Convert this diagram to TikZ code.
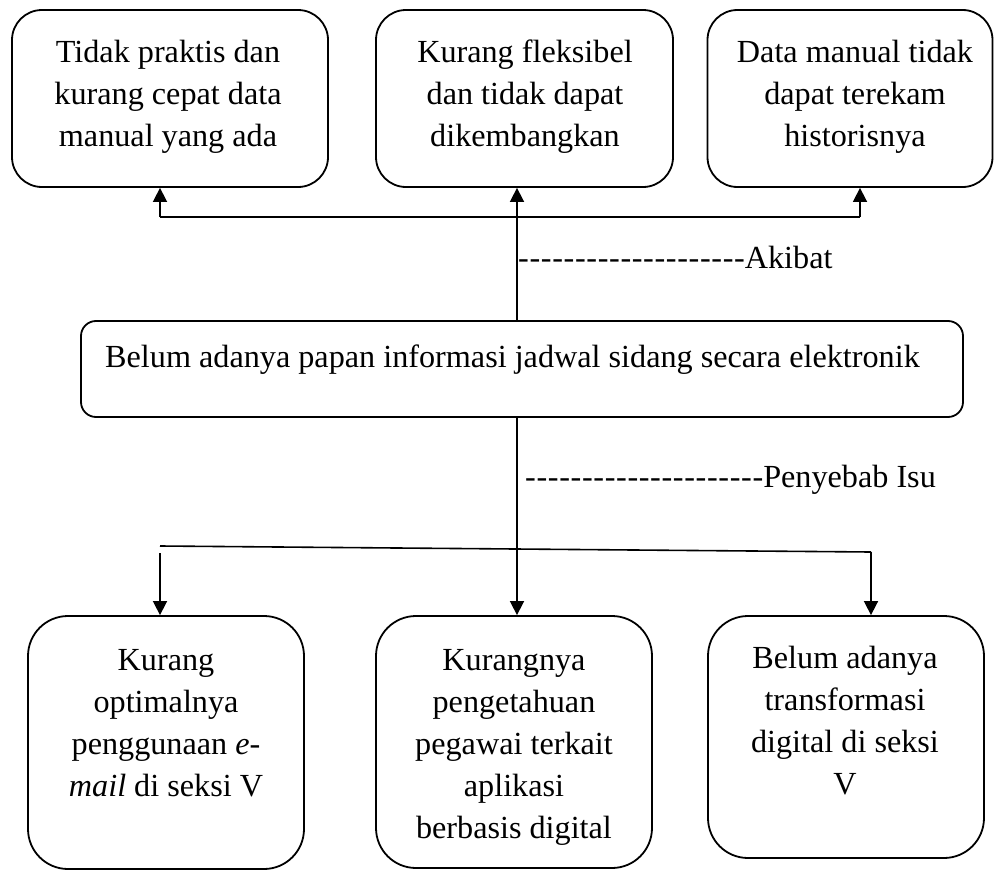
\documentclass[tikz,border=0pt]{standalone}
\usepackage{fontspec}
\setmainfont{Liberation Serif}[Ligatures=TeXOff]
\newfontfamily\hyfont{Liberation Serif}[Ligatures=TeXOff,LetterSpace=2.0]
\usetikzlibrary{arrows.meta}
\begin{document}
\begin{tikzpicture}[x=1pt,y=-1pt,
  font=\fontsize{32.2}{42}\selectfont,
  box/.style={draw, line width=1.8pt, rounded corners=30pt, inner sep=0pt},
  bigbox/.style={box, rounded corners=40pt, minimum width=276pt},
  topbox/.style={box, minimum height=177pt},
  txt/.style={inner sep=0pt, align=center},
  conn/.style={line width=1.6pt},
  arr/.style={conn, -{Triangle[length=14pt,width=14pt]}}]
\useasboundingbox (0,0) rectangle (994,870);
% top boxes
\node[topbox, minimum width=316pt] (b1) at (170,98.5) {};
\node[topbox, minimum width=297pt] (b2) at (524.5,98.5) {};
\node[topbox, minimum width=285pt] (b3) at (850,98.5) {};
\node[txt] (t1) at (168,96.8) {Tidak praktis dan\\kurang cepat data\\manual yang ada};
\node[txt] (t2) at (525,96.8) {Kurang fleksibel\\dan tidak dapat\\dikembangkan};
\node[txt] (t3) at (855,96.8) {Data manual tidak\\dapat terekam\\historisnya};
% middle box
\node[box, rounded corners=15pt, minimum width=882pt, minimum height=96pt] (mid) at (522,369) {};
\node[txt, anchor=base west] (tm) at (105,367) {Belum adanya papan informasi jadwal sidang secara elektronik};
% bottom boxes
\node[bigbox, minimum height=253pt] (b4) at (166,742.5) {};
\node[bigbox, minimum height=252pt] (b5) at (514,742) {};
\node[bigbox, minimum height=242pt] (b6) at (846,737) {};
\node[txt] (t4) at (166,723) {Kurang\\optimalnya\\penggunaan \textit{e-}\\\textit{mail} di seksi V};
\node[txt] (t5) at (514,747.5) {Kurangnya\\pengetahuan\\pegawai terkait\\aplikasi\\berbasis digital};
\node[txt] (t6) at (845,720.5) {Belum adanya\\transformasi\\digital di seksi\\V};
% labels
\node[txt, anchor=base west] (lak) at (518,268) {{\hyfont --------------------}Akibat};
\node[txt, anchor=base west] (lpi) at (525,487) {{\hyfont ---------------------}Penyebab Isu};
% upper connectors
\coordinate (ul) at (160,217);
\coordinate (uc) at (517,217);
\coordinate (ur) at (860,217);
\draw[conn] (ul) -- (ur);
\draw[arr] (ul) -- (ul |- b1.south);
\draw[arr] (ur) -- (ur |- b3.south);
\draw[arr] (mid.north -| uc) -- (uc |- b2.south);
% lower connectors
\coordinate (ll) at (160,546);
\coordinate (la) at (160,553);
\coordinate (lr) at (871,552);
\draw[conn] (ll) -- (lr);
\draw[arr] (la) -- (la |- b4.north);
\draw[arr] (lr) -- (lr |- b6.north);
\draw[arr] (mid.south -| uc) -- (uc |- b5.north);
\end{tikzpicture}
\end{document}
